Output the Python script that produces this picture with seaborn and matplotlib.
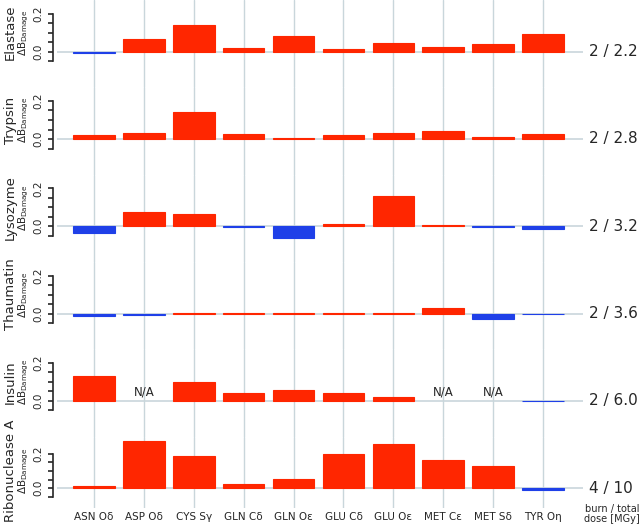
import numpy as np
import pandas as pd
import matplotlib
matplotlib.use("Agg")
import matplotlib.pyplot as plt
import seaborn as sns

# --- data ---
residues = ["ASN Oδ", "ASP Oδ", "CYS Sγ", "GLN Cδ", "GLN Oε",
            "GLU Cδ", "GLU Oε", "MET Cε", "MET Sδ", "TYR Oη"]
proteins = ["Elastase", "Trypsin", "Lysozyme", "Thaumatin", "Insulin", "Ribonuclease A"]
doses = ["2 / 2.2", "2 / 2.8", "2 / 3.2", "2 / 3.6", "2 / 6.0", "4 / 10"]

elastase = [-0.005, 0.065, 0.140, 0.018, 0.083, 0.012, 0.044, 0.023, 0.040, 0.092]
trypsin = [0.023, 0.033, 0.140, 0.028, 0.003, 0.019, 0.030, 0.040, 0.008, 0.024]
lysozyme = [-0.035, 0.077, 0.065, -0.003, -0.060, 0.014, 0.160, 0.008, -0.005, -0.012]
thaumatin = [-0.012, -0.005, 0.005, 0.003, 0.003, 0.001, 0.002, 0.028, -0.030, -0.002]
insulin = [0.130, np.nan, 0.100, 0.039, 0.058, 0.039, 0.018, np.nan, np.nan, -0.003]
ribonuclease = [0.011, 0.275, 0.185, 0.027, 0.055, 0.196, 0.255, 0.166, 0.128, -0.012]
values = [elastase, trypsin, lysozyme, thaumatin, insulin, ribonuclease]

RED = "#ff2600"
BLUE = "#1f40e8"
GRID = "#c9d6db"

sns.set_style("ticks")
plt.rcParams["font.family"] = ["DejaVu Sans"]

W, H = 640, 524
fig = plt.figure(figsize=(W / 100, H / 100), dpi=100)

# layout in pixels
left_px, right_px = 57, 583
slot = 87.3
zero_off = 51.7
ppu = [190, 190, 190, 190, 190, 172]  # pixels per unit of delta B

for i, (prot, dose, vals) in enumerate(zip(proteins, doses, values)):
    top = slot * i
    bottom = slot * (i + 1) if i < 5 else 508
    ax = fig.add_axes([left_px / W, 1 - bottom / H,
                       (right_px - left_px) / W, (bottom - top) / H])
    ax.set_facecolor("none")

    df = pd.DataFrame({"residue": residues, "value": vals})
    df["sign"] = np.where(df["value"] < 0, "neg", "pos")
    for k in range(len(residues)):
        ax.axvline(k, color=GRID, lw=1, zorder=0)
    ax.axhline(0, color=GRID, lw=1.2, zorder=0)
    sns.barplot(data=df.dropna(), x="residue", y="value", hue="sign",
                order=residues, palette={"pos": RED, "neg": BLUE},
                saturation=1, dodge=False, width=0.835, legend=False,
                ax=ax, zorder=2)
    for p in ax.patches:
        p.set_edgecolor(p.get_facecolor())
        p.set_linewidth(0.8)

    # N/A markers
    for k, v in enumerate(vals):
        if np.isnan(v):
            ax.text(k, 0.045, "N/A", ha="center", va="center", fontsize=8.5)

    ax.set_xlim(-0.74, 9.8)
    ax.set_ylim(-(bottom - top - zero_off) / ppu[i], zero_off / ppu[i])

    sns.despine(ax=ax, top=True, right=True, bottom=True, left=False)
    ax.spines["left"].set_position(("outward", 3))
    ax.spines["left"].set_bounds(-0.05, 0.2)
    ax.spines["left"].set_linewidth(1.2)
    ax.set_yticks([0.0, 0.2])
    ax.set_yticklabels(["0.0", "0.2"])
    ax.set_yticks(np.arange(-0.05, 0.201, 0.05), minor=True)
    ax.tick_params(axis="y", which="both", length=3.5, width=1.2, direction="out",
                   labelsize=7.5, pad=3, labelrotation=90)
    for t in ax.get_yticklabels():
        t.set_va("center")
    ax.set_ylabel("")
    ax.set_xlabel("")

    # protein name and delta B label
    ytr = ax.get_yaxis_transform()
    ax.text(-0.089, 0.1, prot, transform=ytr, rotation=90,
            ha="center", va="center", fontsize=9.5)
    ax.text(-0.064, 0.1, r"$\Delta\mathrm{B}_{\mathrm{Damage}}$", transform=ytr,
            rotation=90, ha="center", va="center", fontsize=7.5)
    ax.text(1.012, 0, dose, transform=ytr, ha="left", va="center", fontsize=11)

    if i < 5:
        ax.set_xticks([])
    else:
        ax.tick_params(axis="x", length=0, labelsize=7.5, pad=3)

fig.text(612 / W, 1 - 514 / H, "burn / total\ndose [MGy]", ha="center",
         va="center", fontsize=7, linespacing=1.0)

fig.savefig("out.png", dpi=100)
